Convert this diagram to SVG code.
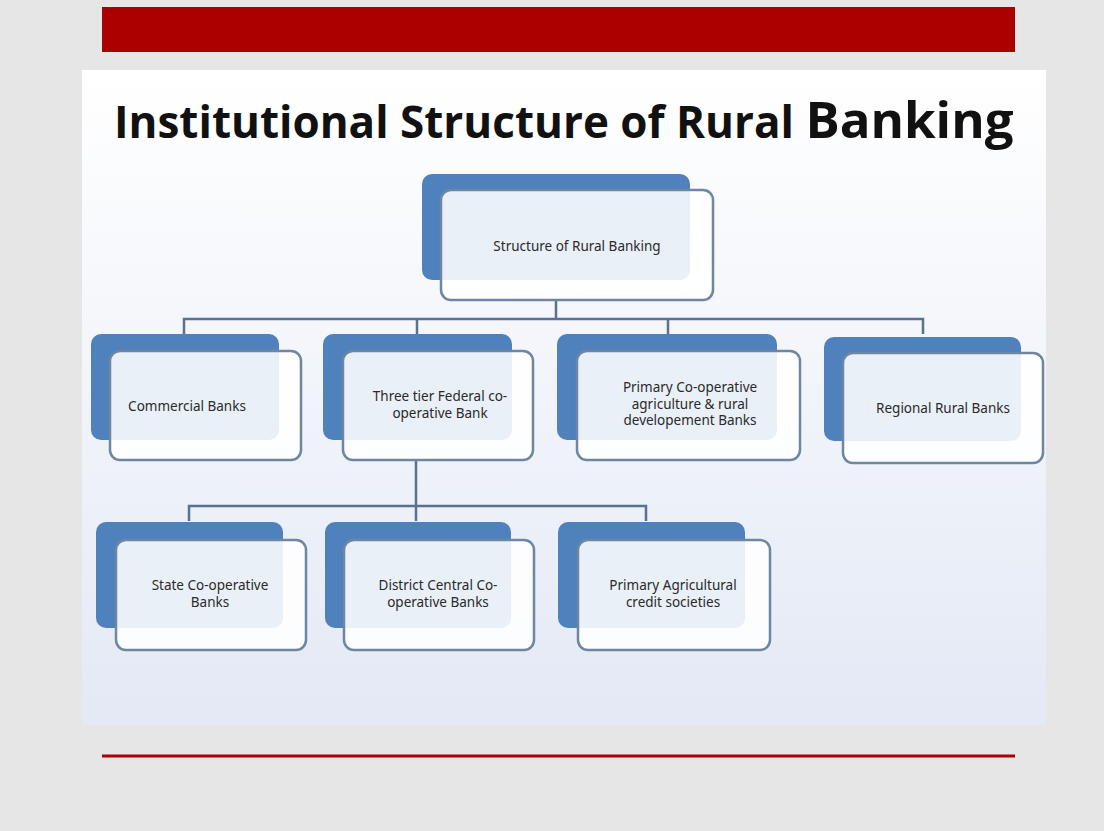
<svg xmlns="http://www.w3.org/2000/svg" width="1104" height="831" viewBox="0 0 1104 831">
<defs>
<linearGradient id="panel" x1="0" y1="0" x2="0" y2="1">
<stop offset="0" stop-color="#ffffff"/>
<stop offset="1" stop-color="#e3e9f5"/>
</linearGradient>
<style>
.back{fill:#4f81bd;}
.front{fill:#ffffff;fill-opacity:0.88;stroke:#6f86a3;stroke-width:2.5;}
.lbl{font-family:"Noto Sans","DejaVu Sans",sans-serif;font-size:13.5px;fill:#2a2a2a;text-anchor:middle;}
.conn{fill:none;stroke:#5b7191;stroke-width:2.5;}
</style>
</defs>
<rect x="0" y="0" width="1104" height="831" fill="#e6e6e6"/>
<rect x="102" y="7" width="913" height="45" fill="#aa0000"/>
<rect x="82" y="70" width="964" height="655" fill="url(#panel)"/>
<line x1="102" y1="756" x2="1015" y2="756" stroke="#aa0000" stroke-width="3"/>
<text x="114" y="138" font-family="'Open Sans','Liberation Sans',sans-serif" font-weight="bold" font-size="44" fill="#111111">Institutional Structure of Rural <tspan font-size="51">Banking</tspan></text>

<g id="connectors">
<path class="conn" d="M556 300 V319 M184 334 V319 H923 V334 M417 319 V334 M668 319 V334"/>
<path class="conn" d="M416 460 V521 M189 521 V506 H646 V521"/>
</g>

<g id="n-top">
<rect class="back" x="422" y="174" width="268" height="106" rx="10"/>
<rect class="front" x="441" y="190" width="272" height="110" rx="10"/>
<text class="lbl" x="577" y="251">Structure of Rural Banking</text>
</g>
<g id="n-commercial">
<rect class="back" x="91" y="334" width="188" height="106" rx="10"/>
<rect class="front" x="110" y="351" width="191" height="109" rx="10"/>
<text class="lbl" x="187" y="411">Commercial Banks</text>
</g>
<g id="n-threetier">
<rect class="back" x="323" y="334" width="189" height="106" rx="10"/>
<rect class="front" x="343" y="351" width="190" height="109" rx="10"/>
<text class="lbl" x="440" y="401">Three tier Federal co-</text>
<text class="lbl" x="440" y="417.5">operative Bank</text>
</g>
<g id="n-primarycoop">
<rect class="back" x="557" y="334" width="220" height="106" rx="10"/>
<rect class="front" x="577" y="351" width="223" height="109" rx="10"/>
<text class="lbl" x="690" y="392">Primary Co-operative</text>
<text class="lbl" x="690" y="408.5">agriculture &amp; rural</text>
<text class="lbl" x="690" y="425">developement Banks</text>
</g>
<g id="n-regional">
<rect class="back" x="824" y="337" width="197" height="104" rx="10"/>
<rect class="front" x="843" y="353" width="200" height="110" rx="10"/>
<text class="lbl" x="943" y="413">Regional Rural Banks</text>
</g>
<g id="n-state">
<rect class="back" x="96" y="522" width="187" height="106" rx="10"/>
<rect class="front" x="116" y="540" width="190" height="110" rx="10"/>
<text class="lbl" x="210" y="590">State Co-operative</text>
<text class="lbl" x="210" y="606.5">Banks</text>
</g>
<g id="n-district">
<rect class="back" x="325" y="522" width="186" height="106" rx="10"/>
<rect class="front" x="344" y="540" width="190" height="110" rx="10"/>
<text class="lbl" x="438" y="590">District Central Co-</text>
<text class="lbl" x="438" y="606.5">operative Banks</text>
</g>
<g id="n-primaryagri">
<rect class="back" x="558" y="522" width="187" height="106" rx="10"/>
<rect class="front" x="578" y="540" width="192" height="110" rx="10"/>
<text class="lbl" x="673" y="590">Primary Agricultural</text>
<text class="lbl" x="673" y="606.5">credit societies</text>
</g>
</svg>
